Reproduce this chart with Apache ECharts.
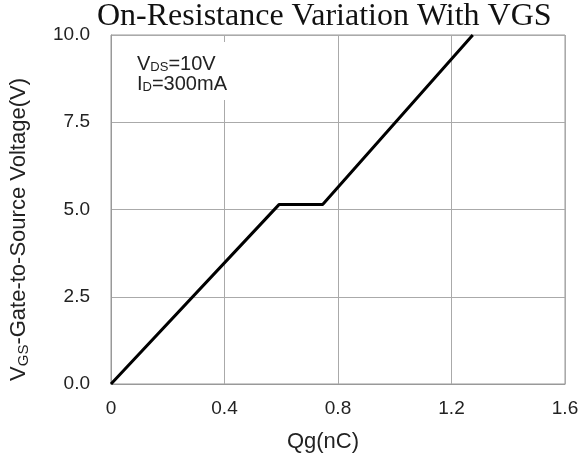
<!DOCTYPE html>
<html>
<head>
<meta charset="utf-8">
<script src="https://cdn.jsdelivr.net/npm/echarts@6/dist/echarts.min.js"></script>
<style>html,body{margin:0;padding:0;background:#fff}#c{width:582px;height:461px}</style>
</head>
<body>
<div id="c"></div>
<script>
// Data
var qg = [0, 0.592, 0.746, 1.275];      // nC
var vgs = [0, 5.14, 5.14, 10.0];        // V
var xTicks = ['0', '0.4', '0.8', '1.2', '1.6'];
var yTicks = ['0.0', '2.5', '5.0', '7.5', '10.0'];
var titleText = 'On-Resistance Variation With VGS';

var chart = echarts.init(document.getElementById('c'));
var font = 'Liberation Sans, Arial, sans-serif';
var points = qg.map(function (q, i) { return [q, vgs[i]]; });

chart.setOption({
  animation: false,
  backgroundColor: '#fff',
  title: {
    text: titleText,
    left: 97,
    top: 1,
    padding: 0,
    textStyle: { fontFamily: 'Liberation Serif, Times New Roman, serif', fontWeight: 'normal', fontSize: 32, color: '#111' }
  },
  grid: { left: 111, right: 17, top: 35, bottom: 77, show: true, borderColor: '#999', borderWidth: 1 },
  xAxis: {
    type: 'value', min: 0, max: 1.6, interval: 0.4,
    name: 'Qg(nC)', nameLocation: 'middle', nameGap: 47,
    nameTextStyle: { fontFamily: font, fontSize: 22, color: '#222', padding: [0, 30, 0, 0] },
    axisLine: { show: true, lineStyle: { color: '#999', width: 1 } },
    axisTick: { show: false },
    splitLine: { show: true, lineStyle: { color: '#aaa', width: 1 } },
    axisLabel: {
      fontFamily: font, fontSize: 19, color: '#222', margin: 15,
      formatter: function (v) { return xTicks[Math.round(v / 0.4)]; }
    }
  },
  yAxis: {
    type: 'value', min: 0, max: 10, interval: 2.5,
    name: '{m|V}{s|GS}{m|-Gate-to-Source Voltage(V)}', nameLocation: 'middle', nameGap: 80,
    nameTextStyle: {
      fontFamily: font, fontSize: 22, color: '#222', padding: [0, 40, 0, 0],
      rich: {
        m: { fontFamily: font, fontSize: 22, color: '#222', lineHeight: 24 },
        s: { fontFamily: font, fontSize: 15, color: '#222', lineHeight: 24, verticalAlign: 'bottom' }
      }
    },
    axisLine: { show: true, lineStyle: { color: '#999', width: 1 } },
    axisTick: { show: false },
    splitLine: { show: true, lineStyle: { color: '#aaa', width: 1 } },
    axisLabel: {
      fontFamily: font, fontSize: 19, color: '#222', margin: 21,
      formatter: function (v) { return yTicks[Math.round(v / 2.5)]; }
    }
  },
  graphic: [{
    type: 'text',
    left: 128,
    top: 42,
    z: 100,
    style: {
      text: '{m|V}{s|DS}{m|=10V}\n{m|I}{s|D}{m|=300mA}',
      backgroundColor: '#fff',
      padding: [12, 10, 6, 9],
      rich: {
        m: { fontFamily: font, fontSize: 20, fill: '#222', lineHeight: 20 },
        s: { fontFamily: font, fontSize: 13, fill: '#222', lineHeight: 20, verticalAlign: 'bottom' }
      }
    }
  }],
  series: [{
    type: 'line',
    data: points,
    symbol: 'none',
    lineStyle: { color: '#000', width: 3 },
    z: 5
  }]
});
</script>
</body>
</html>
